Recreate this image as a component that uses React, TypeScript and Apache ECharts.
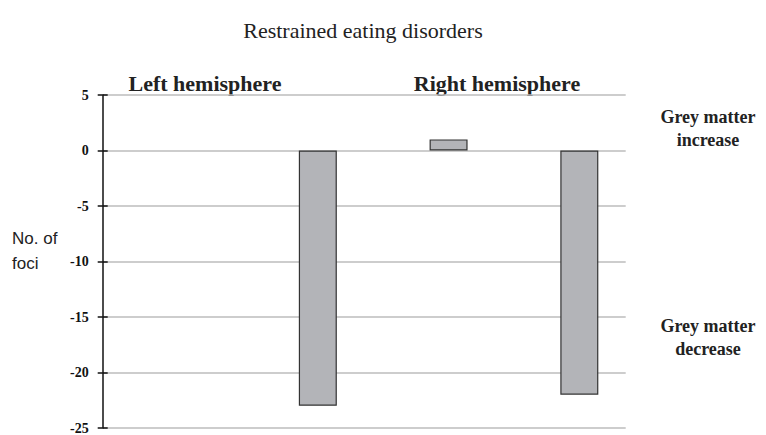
import React, { useEffect, useRef } from "react";
import * as echarts from "echarts";

const categories = ["L1", "L2", "R1", "R2"];
const fociValues: (number | null)[] = [null, -23, 1, -22];
const spacerValues: (number | null)[] = [null, null, null, null];
const yMin = -25;
const yMax = 5;
const yInterval = 5;

export default function App() {
  const ref = useRef<HTMLDivElement>(null);
  useEffect(() => {
    document.body.style.margin = "0";
    const chart = echarts.init(ref.current!, null, { renderer: "svg" });
    const serif = "'Liberation Serif', 'Times New Roman', serif";
    chart.setOption({
      animation: false,
      backgroundColor: "#ffffff",
      grid: { left: 102.7, right: 140.3, top: 95, bottom: 5.3, containLabel: false },
      xAxis: {
        type: "category",
        data: categories,
        axisLine: { show: false },
        axisTick: { show: false },
        axisLabel: { show: false },
        splitLine: { show: false },
      },
      yAxis: [
        {
          type: "value",
          min: yMin,
          max: yMax,
          interval: yInterval,
          axisLine: { show: true, lineStyle: { color: "#111", width: 1.5 } },
          axisTick: { show: true, inside: false, length: 5, lineStyle: { color: "#111", width: 1.5 } },
          axisLabel: { fontFamily: serif, fontSize: 14, fontWeight: "bold", color: "#111", margin: 14 },
          splitLine: { show: true, lineStyle: { color: "#bdbdbd", width: 1.5 } },
        },
        {
          type: "value",
          min: yMin,
          max: yMax,
          interval: yInterval,
          position: "left",
          axisLine: { show: false },
          axisTick: { show: true, inside: true, length: 5, lineStyle: { color: "#111", width: 1.5 } },
          axisLabel: { show: false },
          splitLine: { show: false },
        },
      ],
      series: [
        {
          type: "bar",
          name: "spacer",
          data: spacerValues,
          barWidth: 38,
          barGap: "0%",
          silent: true,
        },
        {
          type: "bar",
          name: "No. of foci",
          data: fociValues,
          barWidth: 38,
          barGap: "0%",
          itemStyle: { color: "#b3b4b8", borderColor: "#333", borderWidth: 1.2 },
        },
      ],
      graphic: [
        {
          type: "text",
          x: 363,
          y: 30,
          style: {
            text: "Restrained eating disorders",
            fontFamily: serif,
            fontSize: 22,
            fill: "#222",
            align: "center",
            verticalAlign: "middle",
          },
        },
        {
          type: "text",
          x: 12,
          y: 251,
          style: {
            text: "No. of\nfoci",
            fontFamily: "'Liberation Sans', Arial, sans-serif",
            fontSize: 17,
            lineHeight: 25,
            fill: "#222",
            verticalAlign: "middle",
          },
        },
        {
          type: "text",
          x: 205,
          y: 83,
          style: {
            text: "Left hemisphere",
            fontFamily: serif,
            fontSize: 22,
            fontWeight: "bold",
            fill: "#222",
            align: "center",
            verticalAlign: "middle",
          },
        },
        {
          type: "text",
          x: 497,
          y: 83,
          style: {
            text: "Right hemisphere",
            fontFamily: serif,
            fontSize: 22,
            fontWeight: "bold",
            fill: "#222",
            align: "center",
            verticalAlign: "middle",
          },
        },
        {
          type: "text",
          x: 708,
          y: 128.5,
          style: {
            text: "Grey matter\nincrease",
            fontFamily: serif,
            fontSize: 18,
            fontWeight: "bold",
            lineHeight: 23,
            fill: "#222",
            align: "center",
            verticalAlign: "middle",
          },
        },
        {
          type: "text",
          x: 708,
          y: 337.5,
          style: {
            text: "Grey matter\ndecrease",
            fontFamily: serif,
            fontSize: 18,
            fontWeight: "bold",
            lineHeight: 23,
            fill: "#222",
            align: "center",
            verticalAlign: "middle",
          },
        },
      ],
    });
    return () => chart.dispose();
  }, []);
  return <div ref={ref} style={{ width: 766, height: 435 }} />;
}
